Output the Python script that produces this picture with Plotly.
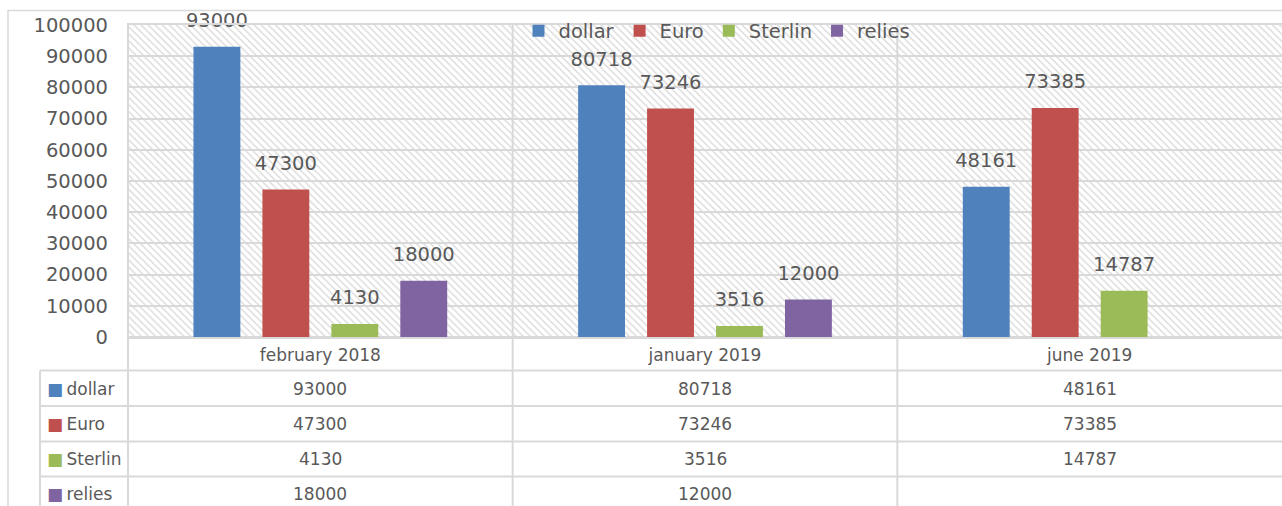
import plotly.graph_objects as go

categories = ["february 2018", "january 2019", "june 2019"]
series_names = ["dollar", "Euro", "Sterlin", "relies"]
dollar = [93000, 80718, 48161]
euro = [47300, 73246, 73385]
sterlin = [4130, 3516, 14787]
relies = [18000, 12000, None]
series_values = [dollar, euro, sterlin, relies]
colors = ["#4F81BD", "#C0504D", "#9BBB59", "#8064A2"]
y_ticks = list(range(0, 100001, 10000))

W, H = 1282, 506
ML, MR, MT, MB = 127, 0, 25, 169
PW, PH = W - ML - MR, H - MT - MB
TXT = "#595959"
GRID = "#d9d9d9"
FONT = "DejaVu Sans"
BARGAP = 0.283


def px2x(px):
    return (px - ML) / PW


def py2y(py):
    return (H - MB - py) / PH


fig = go.Figure()

# hatched plot-area background (decoration)
fig.add_trace(go.Bar(
    x=[0.5], y=[y_ticks[-1]], width=[1], xaxis="x", yaxis="y",
    marker=dict(color="rgba(0,0,0,0)", line=dict(width=0),
                pattern=dict(shape="\\", fgcolor="#d9d9d9", bgcolor="rgba(0,0,0,0)",
                             size=5, solidity=0.28, fillmode="replace")),
    showlegend=False, hoverinfo="skip"))

for name, vals, col in zip(series_names, series_values, colors):
    fig.add_trace(go.Bar(
        name=name, x=categories, y=vals, xaxis="x2", yaxis="y",
        offsetgroup=name, marker=dict(color=col, line=dict(width=0))))

# data labels, aligned with the grouped bars
for name, vals in zip(series_names, series_values):
    fig.add_trace(go.Scatter(
        x=categories, y=vals, xaxis="x2", yaxis="y", offsetgroup=name,
        mode="markers+text", marker=dict(size=22, color="rgba(0,0,0,0)"),
        text=["" if v is None else str(v) for v in vals], textposition="top center",
        textfont=dict(family=FONT, size=19.5, color=TXT),
        showlegend=False, hoverinfo="skip", cliponaxis=False))

shapes = []
# category separators through plot and table
for i in range(len(categories)):
    shapes.append(dict(type="line", xref="x2", yref="paper", x0=i - 0.5, x1=i - 0.5,
                       y0=1, y1=py2y(H + 10), line=dict(color=GRID, width=2), layer="above"))
# table row lines
row_lines = [370.5, 406, 441.5, 476.5]
for ry in row_lines:
    shapes.append(dict(type="line", xref="paper", yref="paper", x0=px2x(40), x1=1,
                       y0=py2y(ry), y1=py2y(ry), line=dict(color=GRID, width=2)))
# table left edge
shapes.append(dict(type="line", xref="paper", yref="paper", x0=px2x(40), x1=px2x(40),
                   y0=py2y(370.5), y1=py2y(H + 10), line=dict(color=GRID, width=2)))
# outer chart border
shapes.append(dict(type="rect", xref="paper", yref="paper", x0=px2x(8), x1=px2x(W + 20),
                   y0=py2y(H + 20), y1=py2y(10.5), line=dict(color=GRID, width=1.5)))

annotations = []
row_centers = [388.5, 424, 459, 494]
for name, vals, col, rc in zip(series_names, series_values, colors, row_centers):
    annotations.append(dict(xref="paper", yref="paper", x=px2x(45), y=py2y(rc),
                            xanchor="left", yanchor="middle", showarrow=False,
                            text=f'<span style="color:{col}">■</span>\u2009{name}',
                            font=dict(family=FONT, size=17, color=TXT)))
    for c, v in zip(categories, vals):
        if v is None:
            continue
        annotations.append(dict(xref="x2", yref="paper", x=c, y=py2y(rc),
                                xanchor="center", yanchor="middle", showarrow=False,
                                text=str(v), font=dict(family=FONT, size=17, color=TXT)))

fig.update_layout(
    width=W, height=H,
    margin=dict(l=ML, r=MR, t=MT, b=MB, pad=0),
    paper_bgcolor="white", plot_bgcolor="white",
    barmode="group", bargap=BARGAP, bargroupgap=0.32,
    scattermode="group", scattergap=BARGAP,
    font=dict(family=FONT, color=TXT),
    xaxis=dict(range=[0, 1], visible=False, fixedrange=True),
    xaxis2=dict(overlaying="x", side="bottom", type="category",
                showgrid=False, showline=True, mirror=True, linecolor=GRID, linewidth=2,
                ticks="", ticklabelstandoff=2,
                tickfont=dict(family=FONT, size=17, color=TXT)),
    yaxis=dict(range=[0, 100000], tickvals=y_ticks, ticktext=[str(t) for t in y_ticks],
               showgrid=True, gridcolor=GRID, gridwidth=2,
               zeroline=True, zerolinecolor=GRID, zerolinewidth=2,
               showline=False, ticks="", ticklabelstandoff=18,
               tickfont=dict(family=FONT, size=19.5, color=TXT)),
    legend=dict(orientation="h", x=px2x(717), xanchor="center", y=py2y(31), yanchor="middle",
                bgcolor="rgba(0,0,0,0)", font=dict(family=FONT, size=19.5, color=TXT),
                itemwidth=30, traceorder="normal"),
    shapes=shapes, annotations=annotations,
    showlegend=True,
)

fig.write_html("out.html", config={"displayModeBar": False},
               post_script="document.body.style.margin='0';document.body.style.overflow='hidden';")
